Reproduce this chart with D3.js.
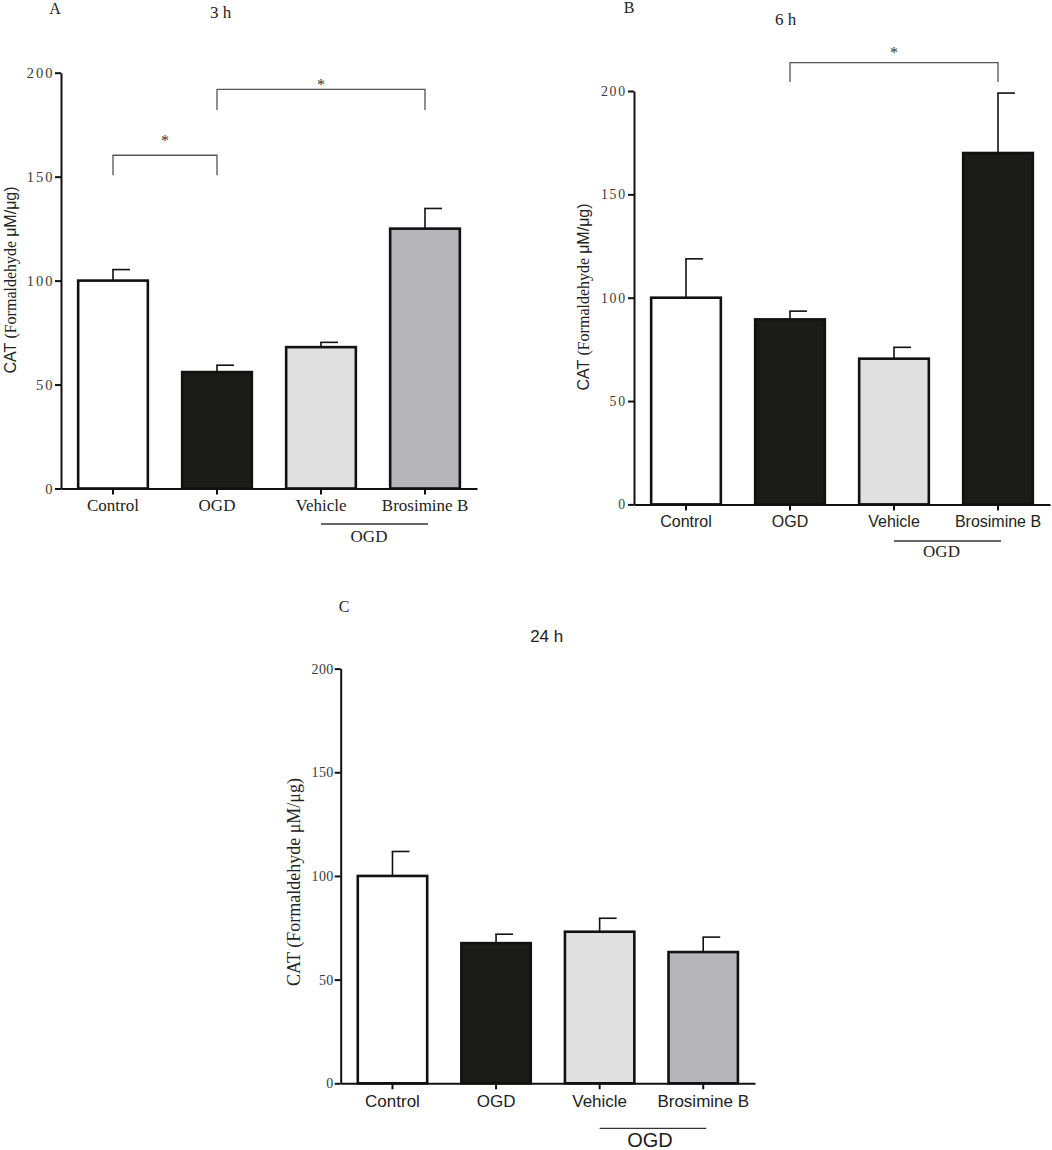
<!DOCTYPE html>
<html>
<head>
<meta charset="utf-8">
<script src="https://cdn.jsdelivr.net/npm/d3@7"></script>
<style>
  body{margin:0;background:#fff;}
  svg{display:block;}
</style>
</head>
<body>
<svg id="chart"></svg>
<script>
// categories / tick labels
const categories = ['Control','OGD','Vehicle','Brosimine B'];
const tick_values = [0,50,100,150,200];
const ogd_group = ['Vehicle','Brosimine B'];
const ogd_label = 'OGD';

// mean / SEM  (CAT, Formaldehyde uM/ug)
const mean_3h  = [100, 56, 68, 125];
const sem_3h   = [5.3, 3.3, 2.3, 9.7];
const mean_6h  = [100, 89.5, 70.5, 170];
const sem_6h   = [18.8, 4, 5.5, 29];
const mean_24h = [100, 67.6, 73.1, 63.3];
const sem_24h  = [11.8, 4.3, 6.5, 7.2];

// significance brackets : [from, to, bracket value, leg end value, star value]
const sig_3h  = [['Control','OGD',160.3,150.7,169],['OGD','Brosimine B',192,182,195.8]];
const sig_6h  = [['OGD','Brosimine B',213.7,204.4,220.2]];
const sig_24h = [];

const serif = '"Liberation Serif","Times New Roman",serif';
const sans  = '"Liberation Sans",Arial,sans-serif';

// bar fill colours per panel
const fill_3h  = ['#ffffff','#1b1b18','#e0e0e0','#b6b6ba'];
const fill_6h  = ['#ffffff','#1b1b18','#e0e0e0','#1b1b18'];
const fill_24h = ['#ffffff','#1b1b18','#e0e0e0','#b6b6ba'];

// panel layout
const panels = [
  {letter:'A', lx:55, ly:13.6, title:'3 h', tfont:serif, tx:220.7, ty:18,
   x0:61, x1:477, y0:488.5, y1:72.7,
   mean:mean_3h, sem:sem_3h, sig:sig_3h, fill:fill_3h,
   yt_font:serif, yt_size:14.5, yt_ls:2, yt_pad:0.5,
   xt_font:serif, xt_size:17, xt_pad:4,
   g_line:524, g_text:541.6, g_font:serif, g_size:17, g_dx:-5.5,
   ylab_x:10, ylab_y:280, ylab_mixed:true, ylab_size:16},
  {letter:'B', lx:629, ly:12.5, title:'6 h', tfont:serif, tx:785.7, ty:24.5,
   x0:634, x1:1050, y0:504.4, y1:91,
   mean:mean_6h, sem:sem_6h, sig:sig_6h, fill:fill_6h,
   yt_font:serif, yt_size:13.8, yt_ls:1.8, yt_pad:1,
   xt_font:sans, xt_size:16, xt_pad:5.6,
   g_line:541, g_text:557.3, g_font:serif, g_size:17, g_dx:-6,
   ylab_x:583, ylab_y:297, ylab_mixed:true, ylab_size:16},
  {letter:'C', lx:344, ly:612, title:'24 h', tfont:sans, tx:546.7, ty:641.8,
   x0:340.7, x1:755, y0:1083.3, y1:668.6,
   mean:mean_24h, sem:sem_24h, sig:sig_24h, fill:fill_24h,
   yt_font:serif, yt_size:14, yt_ls:0.4, yt_pad:1,
   xt_font:sans, xt_size:17, xt_pad:5.4,
   g_line:1128.3, g_text:1147.3, g_font:sans, g_size:20, g_dx:-3,
   ylab_x:294, ylab_y:882, ylab_mixed:false, ylab_size:18}
];

const svg = d3.select('#chart').attr('width',1052).attr('height',1150);

function draw_panel(p){
  const g = svg.append('g').attr('class','panel_'+p.letter);
  const x = d3.scaleBand().domain(categories).range([p.x0,p.x1])
    .paddingInner(0.33).paddingOuter(0.165);
  const y = d3.scaleLinear().domain([0,200]).range([p.y0,p.y1]);
  const cx = c => x(c) + x.bandwidth()/2;

  // bars
  g.append('g').selectAll('rect').data(p.mean).enter().append('rect')
    .attr('x',(d,i)=>x(categories[i])).attr('y',d=>y(d))
    .attr('width',x.bandwidth()).attr('height',d=>y(0)-y(d))
    .attr('fill',(d,i)=>p.fill[i]).attr('stroke','#111').attr('stroke-width',2.6);

  // error bars (upper only, half cap)
  const eb = g.append('g').attr('stroke','#111').attr('stroke-width',1.6);
  p.mean.forEach((m,i)=>{
    const c = cx(categories[i]);
    eb.append('line').attr('x1',c).attr('x2',c).attr('y1',y(m)).attr('y2',y(m+p.sem[i]));
    eb.append('line').attr('x1',c-0.8).attr('x2',c+17).attr('y1',y(m+p.sem[i])).attr('y2',y(m+p.sem[i]));
  });

  // y axis
  const ya = g.append('g').attr('transform','translate('+p.x0+',0)')
    .call(d3.axisLeft(y).tickValues(tick_values).tickSize(6).tickSizeOuter(0).tickPadding(p.yt_pad))
    .attr('font-family',p.yt_font).attr('font-size',p.yt_size);
  ya.select('.domain').attr('stroke','#111').attr('stroke-width',2);
  ya.selectAll('.tick line').attr('stroke','#111').attr('stroke-width',2);
  ya.selectAll('.tick text').attr('fill','#3a3a3a').attr('letter-spacing',p.yt_ls);

  // x axis
  const xa = g.append('g').attr('transform','translate(0,'+p.y0+')')
    .call(d3.axisBottom(x).tickSize(6).tickSizeOuter(0).tickPadding(p.xt_pad))
    .attr('font-family',p.xt_font).attr('font-size',p.xt_size);
  xa.select('.domain').attr('stroke','#111').attr('stroke-width',2);
  xa.selectAll('.tick line').attr('stroke','#111').attr('stroke-width',2);
  xa.selectAll('.tick text').attr('fill','#222');

  // OGD group line
  const gx1 = cx(ogd_group[0]), gx2 = cx(ogd_group[1]) + 3;
  g.append('line').attr('x1',gx1).attr('x2',gx2).attr('y1',p.g_line).attr('y2',p.g_line)
    .attr('stroke','#333').attr('stroke-width',1.3);
  g.append('text').attr('x',(gx1+gx2)/2 + p.g_dx).attr('y',p.g_text)
    .attr('text-anchor','middle').attr('font-family',p.g_font).attr('font-size',p.g_size)
    .attr('fill','#222').text(ogd_label);

  // significance brackets
  p.sig.forEach(s=>{
    const a = cx(s[0]), b = cx(s[1]);
    g.append('path')
      .attr('d','M'+a+','+y(s[3])+'V'+y(s[2])+'H'+b+'V'+y(s[3]))
      .attr('fill','none').attr('stroke','#555').attr('stroke-width',1.3);
    g.append('text').attr('x',(a+b)/2).attr('y',y(s[4])+8.5)
      .attr('text-anchor','middle').attr('font-family',serif).attr('font-size',16)
      .attr('fill','#333').text('*');
  });

  // panel letter + title
  g.append('text').attr('x',p.lx).attr('y',p.ly).attr('text-anchor','middle')
    .attr('font-family',serif).attr('font-size',16).attr('fill','#222').text(p.letter);
  g.append('text').attr('x',p.tx).attr('y',p.ty).attr('text-anchor','middle')
    .attr('font-family',p.tfont).attr('font-size',17).attr('fill','#222').text(p.title);

  // y axis title
  const yl = g.append('text')
    .attr('transform','translate('+p.ylab_x+','+p.ylab_y+') rotate(-90)')
    .attr('text-anchor','middle').attr('dy','0.35em')
    .attr('font-size',p.ylab_size).attr('fill','#222');
  if(p.ylab_mixed){
    yl.append('tspan').attr('font-family',sans).text('CAT ');
    yl.append('tspan').attr('font-family',serif).text('(Formaldehyde ');
    yl.append('tspan').attr('font-family',sans).text('\u03bcM/\u03bcg)');
  }else{
    yl.attr('font-family',serif).text('CAT (Formaldehyde \u03bcM/\u03bcg)');
  }
}

panels.forEach(draw_panel);
</script>
</body>
</html>
